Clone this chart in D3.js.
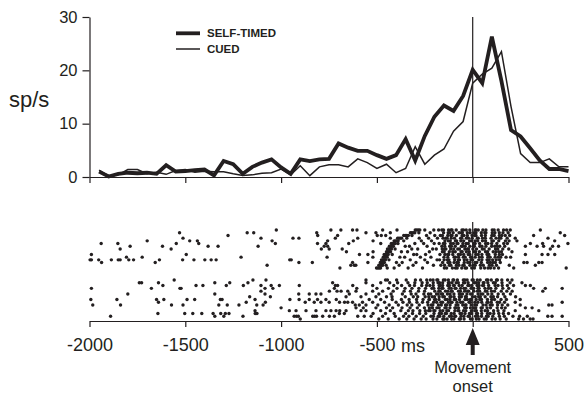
<!DOCTYPE html>
<html>
<head>
<meta charset="utf-8">
<script src="https://cdn.jsdelivr.net/npm/d3@7"></script>
<style>
  body { margin: 0; background: #fff; }
  svg { display: block; font-family: "Liberation Sans", Arial, sans-serif; }
</style>
</head>
<body>
<div id="chart"></div>
<script>
// bin centres (ms, relative to movement onset)
const binTimes = [-1950, -1900, -1850, -1800, -1750, -1700, -1650, -1600, -1550, -1500,
  -1450, -1400, -1350, -1300, -1250, -1200, -1150, -1100, -1050, -1000,
  -950, -900, -850, -800, -750, -700, -650, -600, -550, -500,
  -450, -400, -350, -300, -250, -200, -150, -100, -50, 0,
  50, 100, 150, 200, 250, 300, 350, 400, 450, 500];

// firing rate (sp/s)
const selfTimedRate = [1.0, 0.1, 0.6, 0.8, 0.7, 0.8, 0.6, 2.2, 1.0, 1.1,
  1.3, 1.4, 0.3, 3.0, 2.4, 0.6, 1.9, 2.7, 3.3, 1.8,
  0.6, 3.3, 3.0, 3.3, 3.4, 6.3, 5.5, 4.9, 4.9, 4.1,
  3.4, 4.1, 7.1, 3.1, 7.7, 11.3, 13.4, 12.4, 15.2, 20.1,
  17.6, 26.3, 18.0, 8.8, 7.6, 5.4, 3.1, 1.5, 1.5, 1.1];
const cuedRate = [1.3, 0.2, 0.4, 1.4, 1.4, 0.6, 0.9, 0.5, 1.2, 1.4,
  0.9, 1.1, 1.0, 1.0, 0.6, 0.3, 0.4, 0.7, 0.8, 1.5,
  0.4, 2.1, 0.25, 1.9, 2.3, 2.3, 1.9, 3.4, 2.7, 1.6,
  2.4, 0.8, 1.6, 5.7, 2.4, 4.1, 5.25, 8.6, 10.4, 17.6,
  19.3, 20.4, 23.5, 13.2, 4.4, 2.7, 2.7, 3.4, 1.9, 1.9];

const xTicks = [-2000, -1500, -1000, -500, 0, 500];
const xTickLabels = ["-2000", "-1500", "-1000", "-500", "", "500"];
const yTicks = [0, 10, 20, 30];

// spike times per trial (ms); top raster = cued trials, sorted by cue time
const cuedTrials = [
  [-1025, -740, -688, -627, -604, -470, -395, -300, -292, -284, -276, -250, -203, -178, -161, -152, -126, -113, -108, -86, -56, -48, -34, -15, 12, 18, 29, 53, 69, 102, 112, 133, 161, 177, 196, 353],
  [-1530, -1177, -1143, -814, -557, -505, -430, -325, -318, -310, -302, -281, -222, -152, -128, -121, -102, -71, -59, -54, -28, -13, 8, 17, 45, 63, 69, 102, 116, 139, 158, 185, 457],
  [-1277, -809, -705, -498, -477, -454, -360, -352, -344, -336, -317, -241, -198, -169, -158, -130, -114, -108, -85, -55, -46, -28, -3, 10, 17, 46, 66, 100, 112, 139, 152, 170, 193, 318, 480],
  [-1512, -1105, -938, -907, -717, -600, -430, -392, -385, -378, -371, -344, -279, -230, -184, -155, -141, -133, -112, -95, -63, -57, -33, -22, -3, 24, 29, 51, 66, 96, 122, 138, 147, 180, 222, 393],
  [-1699, -1477, -1437, -1047, -757, -623, -520, -410, -403, -396, -389, -360, -268, -215, -145, -127, -117, -90, -84, -62, -47, -16, -7, 13, 26, 51, 67, 100, 108, 136, 171, 190, 231, 428],
  [-1939, -1852, -1547, -1430, -1030, -810, -766, -647, -480, -425, -418, -411, -404, -390, -302, -256, -201, -175, -153, -145, -115, -101, -82, -77, -51, -34, -23, 6, 13, 36, 67, 79, 99, 126, 162, 181, 301, 365, 497],
  [-1788, -1619, -1381, -1329, -1120, -775, -757, -435, -428, -421, -414, -352, -330, -238, -161, -146, -120, -111, -91, -59, -52, -39, -15, 3, 9, 37, 48, 69, 99, 115, 128, 141, 167, 275, 336, 370, 417, 448],
  [-1840, -1574, -790, -749, -681, -445, -438, -431, -424, -405, -318, -287, -209, -190, -159, -147, -140, -115, -99, -78, -69, -41, -27, -22, 1, 20, 50, 60, 86, 119, 131, 157, 188, 405],
  [-659, -520, -450, -443, -436, -429, -372, -340, -226, -158, -149, -122, -104, -91, -61, -55, -33, -18, 7, 15, 35, 67, 78, 107, 121, 136, 150, 205],
  [-1990, -1495, -591, -547, -462, -455, -448, -441, -420, -308, -292, -246, -171, -145, -131, -125, -104, -75, -64, -47, -23, -15, 16, 29, 48, 75, 84, 118, 139, 155, 275, 362, 393, 428],
  [-1807, -1725, -1209, -760, -521, -467, -460, -453, -446, -380, -355, -273, -218, -150, -130, -97, -90, -74, -49, -39, -11, -6, 13, 35, 49, 79, 91, 117, 133, 146, 174, 198],
  [-1997, -1990, -1952, -1886, -1850, -1840, -1795, -1770, -1635, -1514, -1455, -1398, -1365, -1339, -955, -947, -476, -469, -462, -455, -437, -326, -250, -186, -173, -149, -132, -124, -94, -75, -69, -44, -30, -9, 0, 32, 48, 75, 86, 104, 123, 140],
  [-1937, -1657, -907, -837, -627, -547, -482, -475, -468, -461, -398, -368, -296, -236, -157, -129, -119, -97, -82, -75, -44, -26, -14, 12, 21, 45, 78, 92, 105, 118, 144, 267, 284, 345, 362],
  [-1073, -636, -618, -610, -490, -484, -477, -470, -452, -384, -311, -205, -166, -147, -122, -114, -85, -72, -51, -45, -15, 2, 13, 40, 55, 87, 101, 124, 191, 327],
  [-693, -502, -495, -488, -481, -446, -410, -337, -262, -148, -136, -106, -90, -81, -57, -39, -32, -5, 9, 42, 62, 80, 93, 112, 135, 214, 488]
];

// bottom raster = self-timed trials
const selfTimedTrials = [
  [-1558, -1147, -1079, -557, -455, -445, -397, -347, -299, -272, -240, -221, -207, -187, -182, -153, -144, -127, -103, -99, -80, -49, -41, -29, -3, 3, 24, 39, 72, 79, 97, 124, 129, 152, 182, 205],
  [-1740, -1728, -1640, -1346, -1268, -1173, -731, -557, -480, -433, -392, -338, -302, -264, -237, -206, -181, -173, -157, -127, -122, -108, -86, -75, -48, -42, -24, 9, 18, 31, 55, 59, 79, 108, 118, 153, 195, 257],
  [-1617, -1444, -1408, -1286, -1197, -1105, -1052, -1009, -905, -717, -705, -626, -522, -412, -371, -329, -304, -266, -241, -224, -206, -175, -169, -157, -130, -121, -100, -96, -71, -55, -25, -18, -5, 23, 33, 52, 57, 83, 117, 132, 154, 181, 213, 275, 301],
  [-1990, -1677, -1528, -1522, -1084, -1043, -722, -605, -500, -440, -395, -353, -317, -281, -246, -213, -203, -177, -162, -155, -123, -112, -92, -87, -63, -46, -37, -8, 5, 27, 33, 64, 82, 94, 121, 157, 188, 318, 379, 467],
  [-1105, -748, -708, -687, -652, -609, -522, -470, -415, -358, -325, -283, -251, -198, -177, -170, -142, -129, -111, -107, -74, -64, -42, -27, -21, 6, 25, 36, 66, 74, 98, 114, 149, 178, 206, 366],
  [-1800, -1346, -1084, -908, -853, -818, -792, -644, -557, -490, -426, -367, -321, -296, -255, -231, -219, -189, -180, -163, -157, -132, -118, -98, -70, -65, -53, -30, -11, -3, 28, 43, 53, 79, 100, 133, 160, 197],
  [-1164, -1056, -661, -583, -505, -450, -421, -352, -310, -287, -248, -229, -211, -199, -175, -156, -148, -119, -113, -97, -70, -59, -38, -33, -1, 13, 31, 40, 65, 95, 108, 130, 168, 224],
  [-1993, -1857, -1650, -1612, -1491, -1451, -1317, -1308, -1136, -954, -906, -853, -810, -766, -712, -540, -480, -420, -372, -332, -293, -259, -228, -226, -199, -194, -176, -143, -133, -119, -96, -89, -69, -40, -28, -12, -8, 18, 37, 46, 77, 99, 114, 148, 176, 248],
  [-1640, -1182, -1082, -874, -827, -792, -749, -695, -669, -652, -627, -575, -522, -460, -400, -364, -330, -291, -262, -235, -204, -188, -166, -157, -127, -114, -108, -82, -63, -52, -19, -12, 12, 27, 47, 75, 80, 97, 128, 140, 166, 222, 467],
  [-1983, -1838, -1572, -1512, -1325, -1281, -1220, -1127, -1094, -613, -592, -557, -495, -436, -388, -342, -318, -279, -233, -216, -208, -179, -164, -142, -136, -118, -87, -77, -52, -39, -35, -8, 11, 20, 54, 70, 91, 102, 130, 154, 183, 248, 397, 414],
  [-1000, -609, -571, -505, -450, -418, -369, -327, -289, -252, -226, -210, -187, -175, -145, -138, -119, -93, -88, -74, -42, -33, -12, 5, 16, 44, 50, 75, 93, 128, 151, 170, 275, 310],
  [-1136, -957, -922, -870, -818, -766, -740, -713, -694, -661, -583, -557, -480, -430, -375, -336, -312, -276, -247, -230, -222, -203, -197, -170, -156, -135, -126, -93, -77, -72, -48, -36, -7, 11, 19, 45, 65, 78, 109, 132, 163, 222, 345],
  [-1643, -1503, -1461, -1414, -1355, -1315, -1291, -1272, -1135, -1126, -696, -670, -520, -455, -410, -350, -314, -277, -245, -202, -174, -163, -143, -137, -112, -97, -66, -58, -40, -17, -7, 20, 25, 47, 77, 91, 110, 136, 160, 187],
  [-1890, -1346, -1299, -1199, -932, -920, -910, -835, -825, -815, -783, -748, -722, -600, -566, -530, -470, -404, -361, -333, -295, -258, -218, -205, -180, -172, -151, -121, -111, -94, -89, -61, -46, -24, -17, 15, 27, 46, 72, 81, 105, 139, 165, 210, 245, 285, 392, 414, 467],
  [-900, -490, -441, -384, -344, -306, -269, -243, -207, -187, -156, -149, -134, -110, -98, -70, -64, -45, -12, -3, 19, 33, 60, 71, 101, 118, 143, 175, 240, 265, 300, 315]
];

const W = 586, H = 394;
const ink = "#231f20";

const svg = d3.select("#chart").append("svg")
  .attr("width", W)
  .attr("height", H)
  .attr("viewBox", `0 0 ${W} ${H}`);

// shared time axis
const x = d3.scaleLinear().domain([-2000, 500]).range([89.5, 568.5]);
// firing rate
const y = d3.scaleLinear().domain([0, 30]).range([177, 17]);

// ---- top panel: PSTH ----
const psth = svg.append("g").attr("class", "psth");

const yAxis = psth.append("g")
  .attr("transform", "translate(89.5,0)")
  .call(d3.axisLeft(y).tickValues(yTicks).tickSize(7).tickSizeOuter(0).tickPadding(5));

const xAxisTop = psth.append("g")
  .attr("transform", "translate(0,177)")
  .call(d3.axisBottom(x).tickValues(xTicks).tickSize(6).tickSizeOuter(0).tickFormat(""));

[yAxis, xAxisTop].forEach(a => {
  a.selectAll("path, line").attr("stroke", ink).attr("stroke-width", 1.2);
  a.selectAll("text").attr("fill", ink).attr("font-size", 16.5)
    .attr("font-family", "Liberation Sans, Arial, sans-serif");
});

psth.append("text")
  .attr("x", 9)
  .attr("y", 107)
  .attr("font-size", 22)
  .attr("fill", ink)
  .text("sp/s");

// onset marker
psth.append("line")
  .attr("x1", x(0)).attr("x2", x(0))
  .attr("y1", y(30)).attr("y2", y(0))
  .attr("stroke", ink).attr("stroke-width", 1.2);

const rateLine = d3.line()
  .x((d, i) => x(binTimes[i]))
  .y(d => y(d));

psth.append("path")
  .datum(cuedRate)
  .attr("d", rateLine)
  .attr("fill", "none")
  .attr("stroke", ink)
  .attr("stroke-width", 1.5);

psth.append("path")
  .datum(selfTimedRate)
  .attr("d", rateLine)
  .attr("fill", "none")
  .attr("stroke", ink)
  .attr("stroke-width", 3.8)
  .attr("stroke-linejoin", "miter")
  .attr("stroke-miterlimit", 3);

// legend
const legend = psth.append("g").attr("class", "legend");
[["SELF-TIMED", 3.8, 33.3], ["CUED", 1.5, 49]].forEach(([label, w, ly]) => {
  legend.append("line")
    .attr("x1", 176).attr("x2", 200)
    .attr("y1", ly).attr("y2", ly)
    .attr("stroke", ink).attr("stroke-width", w);
  legend.append("text")
    .attr("x", 207).attr("y", ly + 4)
    .attr("font-size", 11.5)
    .attr("font-weight", "bold")
    .attr("fill", ink)
    .text(label);
});

// ---- bottom panel: rasters ----
const yCued = d3.scaleLinear().domain([0, cuedTrials.length - 1]).range([230, 268]);
const ySelf = d3.scaleLinear().domain([0, selfTimedTrials.length - 1]).range([280, 319]);

function drawRaster(trials, yScale, cls) {
  svg.append("g").attr("class", cls)
    .selectAll("g")
    .data(trials)
    .join("g")
    .attr("transform", (d, i) => `translate(0,${yScale(i)})`)
    .selectAll("circle")
    .data(d => d)
    .join("circle")
    .attr("cx", d => x(d))
    .attr("cy", 0)
    .attr("r", 1.7)
    .attr("fill", ink);
}
drawRaster(cuedTrials, yCued, "raster-cued");
drawRaster(selfTimedTrials, ySelf, "raster-self");

svg.append("line")
  .attr("x1", x(0)).attr("x2", x(0))
  .attr("y1", 222).attr("y2", 321)
  .attr("stroke", ink).attr("stroke-width", 1.2);

const xAxis = svg.append("g")
  .attr("transform", "translate(0,321)")
  .call(d3.axisBottom(x).tickValues(xTicks).tickSize(6).tickSizeOuter(0).tickPadding(11.5)
    .tickFormat((d, i) => xTickLabels[i]));
xAxis.selectAll("path, line").attr("stroke", ink).attr("stroke-width", 1.2);
xAxis.selectAll("text").attr("fill", ink).attr("font-size", 18)
  .attr("font-family", "Liberation Sans, Arial, sans-serif");

svg.append("text")
  .attr("x", x(-500) + 24)
  .attr("y", 351.5)
  .attr("font-size", 18)
  .attr("fill", ink)
  .text("ms");

// movement onset arrow
const ax = x(0);
svg.append("path")
  .attr("d", `M${ax},328 L${ax - 7},345 L${ax - 2},345 L${ax - 2},355 L${ax + 2},355 L${ax + 2},345 L${ax + 7},345 Z`)
  .attr("fill", ink);

svg.append("text")
  .attr("x", ax).attr("y", 373)
  .attr("text-anchor", "middle")
  .attr("font-size", 16.5)
  .attr("fill", ink)
  .text("Movement");
svg.append("text")
  .attr("x", ax).attr("y", 392)
  .attr("text-anchor", "middle")
  .attr("font-size", 16.5)
  .attr("fill", ink)
  .text("onset");
</script>
</body>
</html>
